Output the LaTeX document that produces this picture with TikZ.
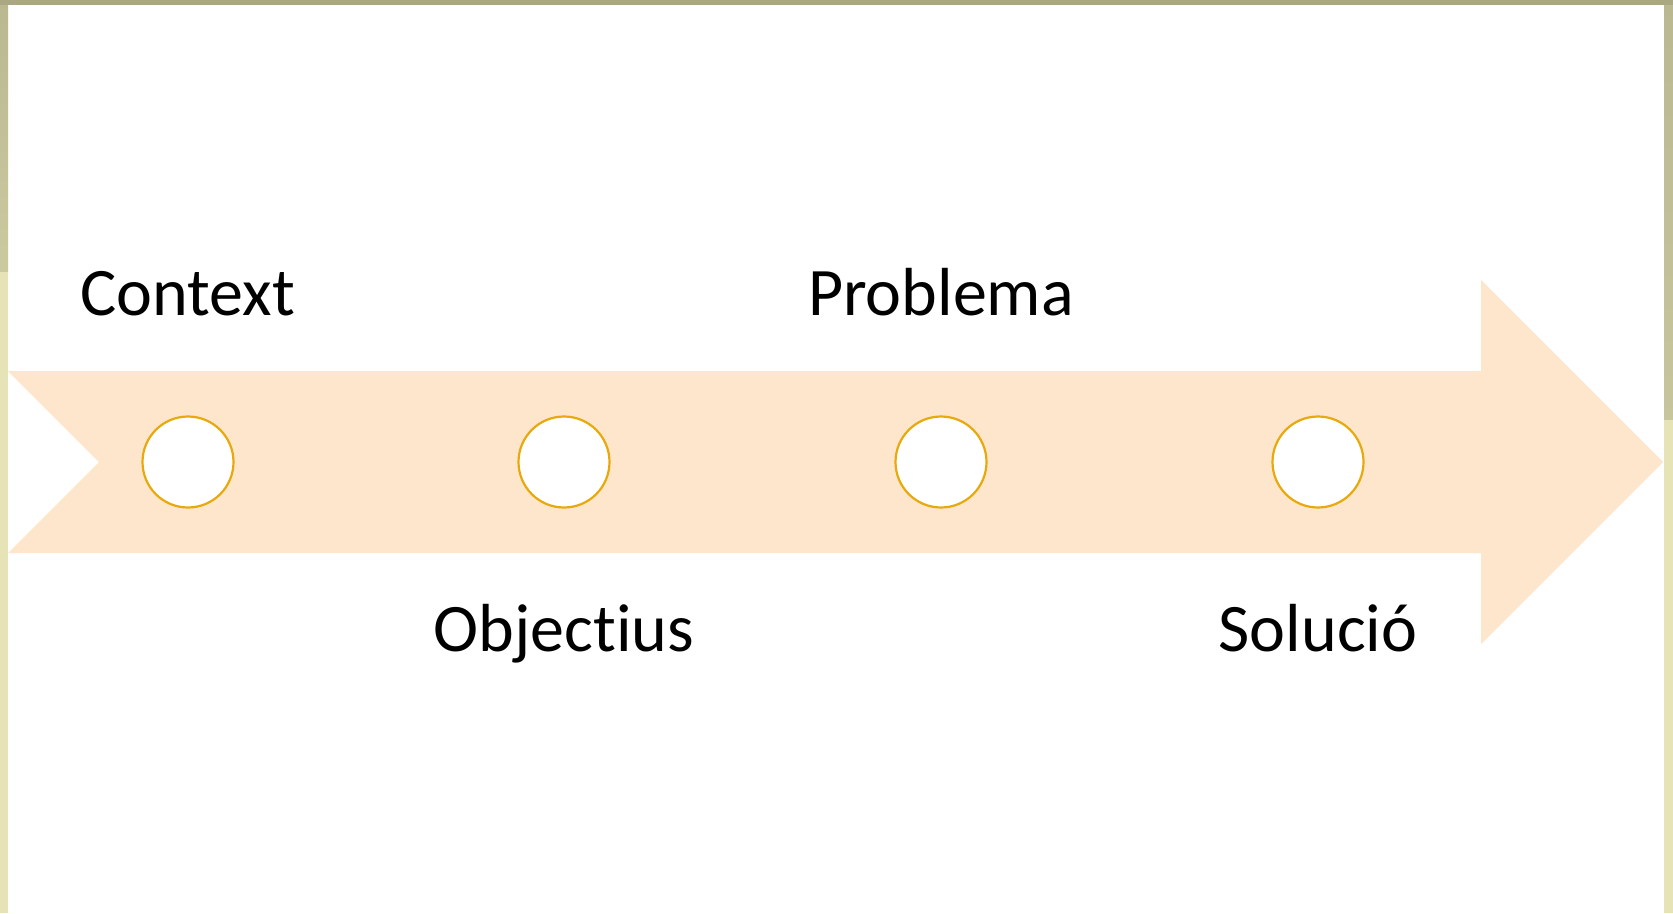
\documentclass[tikz,border=0pt]{standalone}
\usepackage{fontspec}
\setmainfont{Carlito}[RawFeature=-liga]
\definecolor{arrowfill}{HTML}{FEE6CC}
\definecolor{ringcol}{HTML}{E8A90C}
\definecolor{frametop}{HTML}{A9A882}
\definecolor{frameA}{HTML}{B9B891}
\definecolor{frameB}{HTML}{E6E3B6}
\begin{document}
\begin{tikzpicture}[x=1pt,y=-1pt,
  stage/.style={circle,draw=ringcol,line width=2.2pt,fill=white,minimum size=91pt,inner sep=0pt},
  label/.style={font=\fontsize{68}{80}\selectfont,anchor=base,inner sep=0pt,text=black}]
\useasboundingbox (0,0) rectangle (1673,913);
\fill[white] (0,0) rectangle (1673,913);
% frame strips
\shade[top color=frameA,bottom color=frameA!60!frameB] (0,0) rectangle (8,272);
\fill[frameB] (0,272) rectangle (8,913);
\shade[top color=frameA,bottom color=frameA!70!frameB] (1664,0) rectangle (1673,420);
\fill[frameB] (1664,420) rectangle (1673,913);
\fill[frametop] (0,0) rectangle (1673,5);
% arrow
\fill[arrowfill] (8,371) -- (1481,371) -- (1481,280) -- (1663,462) -- (1481,644) -- (1481,553) -- (8,553) -- (99,462) -- cycle;
% stages
\node[stage] (s1) at (188,462) {};
\node[stage] (s2) at (564,462) {};
\node[stage] (s3) at (941,462) {};
\node[stage] (s4) at (1318,462) {};
% labels
\node[label] (l1) at (188,315) {Context};
\node[label] (l2) at (564,651) {Objectius};
\node[label] (l3) at (941,315) {Problema};
\node[label] (l4) at (1318,651) {Solució};
\end{tikzpicture}
\end{document}
